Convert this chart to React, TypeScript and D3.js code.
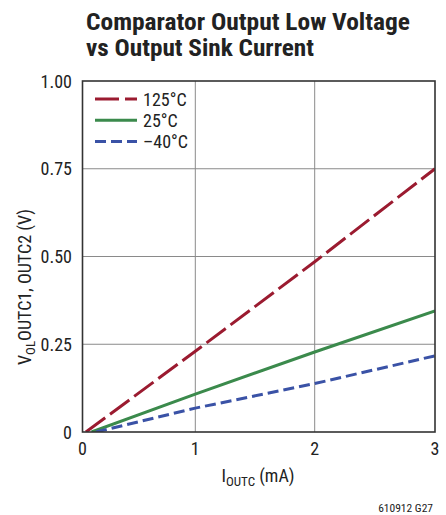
import React from "react";
import * as d3 from "d3";

const xTicks = [0, 1, 2, 3];
const yTicks = [0, 0.25, 0.5, 0.75, 1.0];
const yTickLabels = ["0", "0.25", "0.50", "0.75", "1.00"];

const seriesNames = ["125°C", "25°C", "–40°C"];
const seriesColors = ["#9b1b30", "#3b8a4c", "#3a52a6"];
const seriesDash = ["24,6", "", "11,5"];

const current125 = [0.03, 1, 2, 3];
const vol125 = [0, 0.23, 0.485, 0.75];
const current25 = [0.08, 1, 2, 3];
const vol25 = [0, 0.108, 0.228, 0.345];
const currentM40 = [0.12, 1, 2, 3];
const volM40 = [0, 0.068, 0.138, 0.217];

const series = [
  { x: current125, y: vol125 },
  { x: current25, y: vol25 },
  { x: currentM40, y: volM40 },
];

const FONT = "'Liberation Sans Narrow', 'Arial Narrow', 'Roboto Condensed', 'Liberation Sans', sans-serif";

export default function App() {
  const W = 446, H = 515;
  const left = 82.5, right = 435, top = 81, bottom = 432;
  // The original grid is slightly non-uniform; use a polylinear scale
  const x = d3.scaleLinear().domain([0, 1, 2, 3]).range([left, 195.3, 314.7, right]);
  const y = d3.scaleLinear().domain([0, 1]).range([bottom, top]);
  const line = d3.line<[number, number]>().x((d) => x(d[0])).y((d) => y(d[1]));

  return (
    <svg width={W} height={H} style={{ position: "absolute", left: 0, top: 0, background: "#fff" }} fontFamily={FONT}>
      <text x={86} y={29.5} fontSize={24} fontWeight="bold" fill="#222" textLength={324} lengthAdjust="spacingAndGlyphs">Comparator Output Low Voltage</text>
      <text x={86} y={56} fontSize={24} fontWeight="bold" fill="#222" textLength={228} lengthAdjust="spacingAndGlyphs">vs Output Sink Current</text>

      {xTicks.slice(1, 3).map((t) => (
        <line key={"gx" + t} x1={x(t)} x2={x(t)} y1={top} y2={bottom} stroke="#8a8a8a" strokeWidth={1} />
      ))}
      {yTicks.slice(1, 4).map((t) => (
        <line key={"gy" + t} x1={left} x2={right} y1={y(t)} y2={y(t)} stroke="#8a8a8a" strokeWidth={1} />
      ))}

      <defs>
        <clipPath id="plotclip">
          <rect x={left} y={top} width={right - left} height={bottom - top} />
        </clipPath>
      </defs>
      <g clipPath="url(#plotclip)">
        {series.map((s, i) => (
          <path key={i} d={line(s.x.map((v, j) => [v, s.y[j]] as [number, number])) || ""} fill="none"
            stroke={seriesColors[i]} strokeWidth={3} strokeDasharray={seriesDash[i]} />
        ))}
      </g>

      <rect x={left} y={top} width={right - left} height={bottom - top} fill="none" stroke="#333" strokeWidth={1.6} />

      {xTicks.map((t) => (
        <text key={"xt" + t} x={x(t)} y={455} fontSize={18} textAnchor="middle" fill="#222">{t}</text>
      ))}
      {yTicks.map((t, i) => (
        <text key={"yt" + t} x={72} y={y(t) + 6.5} fontSize={18} textAnchor="end" fill="#222">{yTickLabels[i]}</text>
      ))}

      {seriesNames.map((n, i) => (
        <g key={n}>
          <line x1={95} x2={137} y1={99 + i * 21.3} y2={99 + i * 21.3} stroke={seriesColors[i]} strokeWidth={3} strokeDasharray={seriesDash[i]} />
          <text x={143} y={99 + i * 21.3 + 6.5} fontSize={18} fill="#222">{n}</text>
        </g>
      ))}

      <text x={258} y={481.5} fontSize={18} textAnchor="middle" fill="#222">
        I<tspan fontSize={13} dy={4}>OUTC</tspan><tspan dy={-4}> (mA)</tspan>
      </text>

      <text transform="translate(31,287) rotate(-90)" fontSize={18} textAnchor="middle" fill="#222">
        V<tspan fontSize={13} dy={4}>OL</tspan><tspan dy={-4}>OUTC1, OUTC2 (V)</tspan>
      </text>

      <text x={433} y={511.5} fontSize={11.5} textAnchor="end" fill="#222">610912 G27</text>
    </svg>
  );
}
